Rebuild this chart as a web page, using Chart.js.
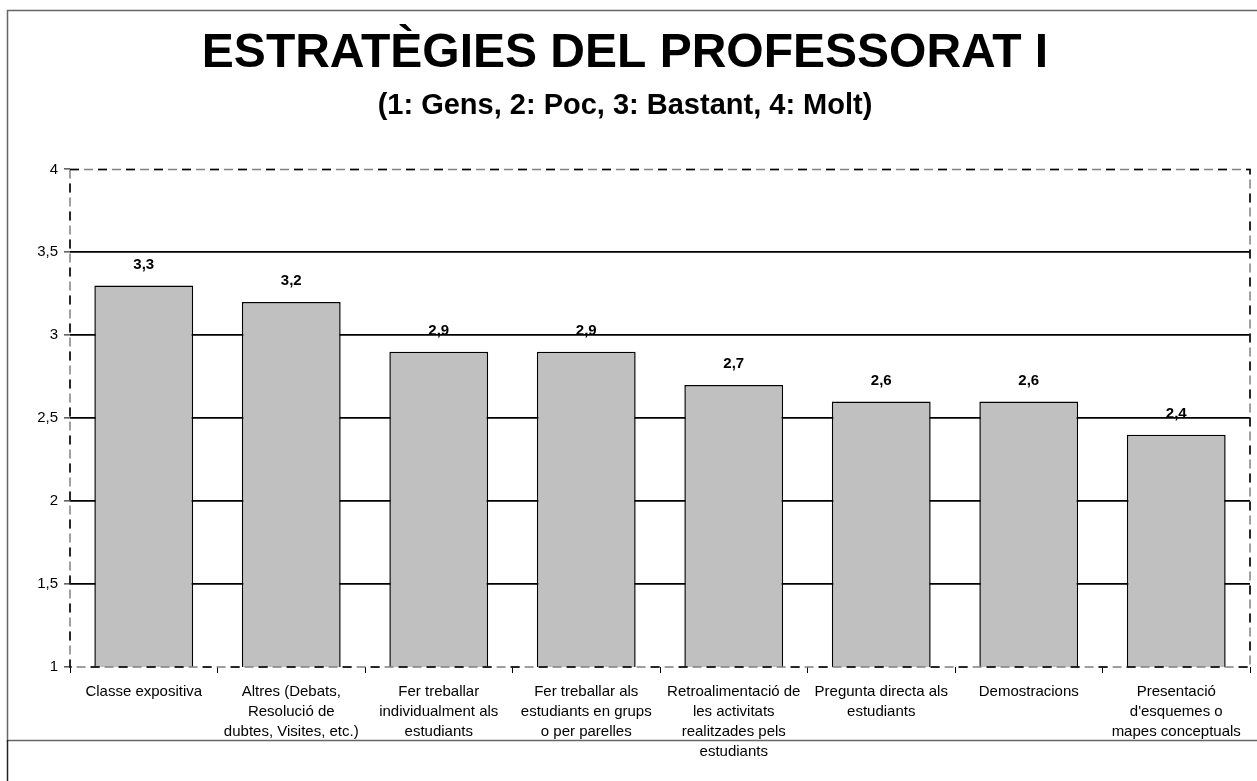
<!DOCTYPE html>
<html>
<head>
<meta charset="utf-8">
<script src="https://cdn.jsdelivr.net/npm/chart.js@4.4.1/dist/chart.umd.min.js"></script>
<style>
    html, body { margin: 0; padding: 0; background: #fff; }
    #wrap { width: 1257px; height: 781px; }
</style>
</head>
<body>
<div id="wrap"><canvas id="barChart" width="1257" height="781"></canvas></div>
<script>
var categories = [
    ["Classe expositiva"],
    ["Altres (Debats,", "Resolució de", "dubtes, Visites, etc.)"],
    ["Fer treballar", "individualment als", "estudiants"],
    ["Fer treballar als", "estudiants en grups", "o per parelles"],
    ["Retroalimentació de", "les activitats", "realitzades pels", "estudiants"],
    ["Pregunta directa als", "estudiants"],
    ["Demostracions"],
    ["Presentació", "d'esquemes o", "mapes conceptuals"]
];
var mitjanes = [3.3, 3.2, 2.9, 2.9, 2.7, 2.6, 2.6, 2.4];
var yTicks = [1, 1.5, 2, 2.5, 3, 3.5, 4];

var FONT = "'Liberation Sans', Arial, sans-serif";

function comma(v) {
    return String(v).replace(".", ",");
}

// frame round the chart + dashed plot border + value labels
var framePlugin = {
    id: "frame",
    beforeDraw: function (chart) {
        var ctx = chart.ctx;
        ctx.save();
        ctx.fillStyle = "#fff";
        ctx.fillRect(0, 0, chart.width, chart.height);
        ctx.strokeStyle = "#666";
        ctx.lineWidth = 1.5;
        ctx.strokeRect(7.5, 10.5, 1260, 730);
        ctx.strokeStyle = "#222";
        ctx.beginPath();
        ctx.moveTo(7.5, 740);
        ctx.lineTo(7.5, 781);
        ctx.stroke();
        ctx.restore();
    },
    afterDatasetsDraw: function (chart) {
        var ctx = chart.ctx;
        var a = chart.chartArea;
        ctx.save();
        ctx.lineWidth = 1.5;
        ctx.strokeStyle = "#808080";
        ctx.setLineDash([9, 5]);
        ctx.strokeRect(a.left, a.top, a.right - a.left, a.bottom - a.top);
        ctx.strokeStyle = "#000";
        ctx.setLineDash([9, 19]);
        ctx.strokeRect(a.left, a.top, a.right - a.left, a.bottom - a.top);
        ctx.setLineDash([]);

        ctx.fillStyle = "#000";
        ctx.font = "bold 15px " + FONT;
        ctx.textAlign = "center";
        ctx.textBaseline = "middle";
        var meta = chart.getDatasetMeta(0);
        meta.data.forEach(function (bar, i) {
            ctx.fillText(comma(mitjanes[i]), bar.x, bar.y - 21);
        });
        ctx.restore();
    }
};

var ctx = document.getElementById("barChart").getContext("2d");
new Chart(ctx, {
    type: "bar",
    data: {
        labels: categories,
        datasets: [{
            data: mitjanes,
            backgroundColor: "#c0c0c0",
            borderColor: "#000",
            borderWidth: 1.5,
            categoryPercentage: 1,
            barPercentage: 0.67
        }]
    },
    options: {
        responsive: false,
        animation: false,
        layout: { padding: { left: 0, right: 7, top: 0, bottom: 0 } },
        plugins: {
            legend: { display: false },
            tooltip: { enabled: false },
            title: {
                display: true,
                text: "ESTRATÈGIES DEL PROFESSORAT I",
                color: "#000",
                font: { family: FONT, size: 48, weight: "bold", lineHeight: 1.2 },
                padding: { top: 25, bottom: 6 }
            },
            subtitle: {
                display: true,
                text: "(1: Gens, 2: Poc, 3: Bastant, 4: Molt)",
                color: "#000",
                font: { family: FONT, size: 29, weight: "bold", lineHeight: 1.2 },
                padding: { top: 0, bottom: 46 }
            }
        },
        scales: {
            y: {
                min: 1,
                max: 4,
                afterFit: function (scale) { scale.width = 70; },
                afterBuildTicks: function (scale) {
                    scale.ticks = yTicks.map(function (v) { return { value: v }; });
                },
                border: { display: false },
                grid: {
                    color: function (c) {
                        return (c.tick && (c.tick.value === 4 || c.tick.value === 1)) ? "rgba(0,0,0,0)" : "#000";
                    },
                    lineWidth: 1.8,
                    tickLength: 6,
                    tickColor: "#000",
                    tickWidth: 1
                },
                ticks: {
                    color: "#000",
                    padding: 6,
                    font: { family: FONT, size: 15 },
                    callback: function (v) { return comma(v); }
                }
            },
            x: {
                afterFit: function (scale) { scale.height = 114; },
                border: { display: false },
                grid: {
                    offset: true,
                    drawOnChartArea: false,
                    tickLength: 6,
                    tickColor: "#000",
                    tickWidth: 1
                },
                ticks: {
                    color: "#000",
                    padding: 9,
                    maxRotation: 0,
                    autoSkip: false,
                    font: { family: FONT, size: 15, lineHeight: 1.33 }
                }
            }
        }
    },
    plugins: [framePlugin]
});
</script>
</body>
</html>
